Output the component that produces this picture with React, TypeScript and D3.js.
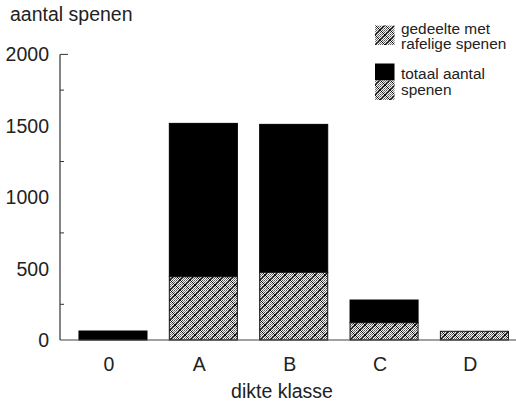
import React from "react";
import * as d3 from "d3";

const categories = ["0", "A", "B", "C", "D"];
const totalValues = [63, 1517, 1510, 280, 61];
const raggedValues = [0, 443, 474, 121, 61];
const yTicks = [0, 500, 1000, 1500, 2000];
const yMinorTicks = [250, 750, 1250, 1750];
const yTitle = "aantal spenen";
const xTitle = "dikte klasse";
const legendRagged = ["gedeelte met", "rafelige spenen"];
const legendTotal = ["totaal aantal", "spenen"];

const W = 516;
const H = 404;
const FONT = "'Liberation Sans', Arial, Helvetica, sans-serif";
const TXT = "#222";

export default function App() {
  const y = d3.scaleLinear().domain([0, 2000]).range([340, 54.4]);
  const x = d3
    .scaleBand<string>()
    .domain(categories)
    .range([60, 527.4])
    .paddingInner(0.247)
    .paddingOuter(0.21);
  const bw = x.bandwidth();

  return (
    <svg
      width={W}
      height={H}
      style={{ position: "absolute", left: 0, top: 0, background: "#fff" }}
      fontFamily={FONT}
    >
      <defs>
        <pattern id="dots" width="2" height="2" patternUnits="userSpaceOnUse">
          <rect width="2" height="2" fill="#f4f4f4" />
          <rect width="1" height="1" fill="#555" />
          <rect x="1" y="1" width="1" height="1" fill="#7a7a7a" />
        </pattern>
        <pattern id="hatch" width="10" height="10" patternUnits="userSpaceOnUse">
          <rect width="10" height="10" fill="url(#dots)" />
          <path d="M0,0 L10,10 M10,0 L0,10" stroke="#111" strokeWidth="1" />
        </pattern>
      </defs>

      {/* y-axis title */}
      <text x={10} y={21} fontSize={19.5} fill={TXT}>
        {yTitle}
      </text>

      {/* bars */}
      {categories.map((c, i) => {
        const x0 = x(c)!;
        const tot = totalValues[i];
        const rag = raggedValues[i];
        return (
          <g key={c}>
            {tot > rag && (
              <rect
                x={x0}
                y={y(tot)}
                width={bw}
                height={y(rag) - y(tot)}
                fill="#000"
                stroke="#000"
                strokeWidth={1}
              />
            )}
            {rag > 0 && (
              <rect
                x={x0}
                y={y(rag)}
                width={bw}
                height={y(0) - y(rag)}
                fill="url(#hatch)"
                stroke="#111"
                strokeWidth={1}
              />
            )}
          </g>
        );
      })}

      {/* axes */}
      <line x1={60} x2={60} y1={y(2000)} y2={y(0)} stroke="#333" strokeWidth={1.2} />
      <line x1={60} x2={W} y1={y(0)} y2={y(0)} stroke="#444" strokeWidth={1.2} />
      <line x1={60} x2={68} y1={y(2000)} y2={y(2000)} stroke="#333" strokeWidth={1} />
      {yMinorTicks.map((t) => (
        <line key={t} x1={60} x2={64} y1={y(t)} y2={y(t)} stroke="#333" strokeWidth={1} />
      ))}
      {yTicks.map((t) => (
        <text
          key={t}
          x={49}
          y={y(t) + 7}
          fontSize={19.5}
          textAnchor="end"
          fill={TXT}
        >
          {t}
        </text>
      ))}

      {/* x labels */}
      {categories.map((c) => (
        <text
          key={c}
          x={x(c)! + bw / 2 - 4}
          y={371}
          fontSize={19.5}
          textAnchor="middle"
          fill={TXT}
        >
          {c}
        </text>
      ))}
      <text x={282} y={398} fontSize={19.5} textAnchor="middle" fill={TXT}>
        {xTitle}
      </text>

      {/* legend */}
      <rect x={375} y={25.5} width={19.5} height={19.5} fill="url(#hatch)" />
      {legendRagged.map((s, i) => (
        <text key={s} x={401} y={33.5 + i * 15.5} fontSize={15.4} fill={TXT}>
          {s}
        </text>
      ))}
      <rect x={375} y={63.5} width={19.5} height={17} fill="#000" />
      <rect x={375} y={80.5} width={19.5} height={19.5} fill="url(#hatch)" />
      {legendTotal.map((s, i) => (
        <text key={s} x={401} y={78.5 + i * 16.5} fontSize={15.4} fill={TXT}>
          {s}
        </text>
      ))}
    </svg>
  );
}
